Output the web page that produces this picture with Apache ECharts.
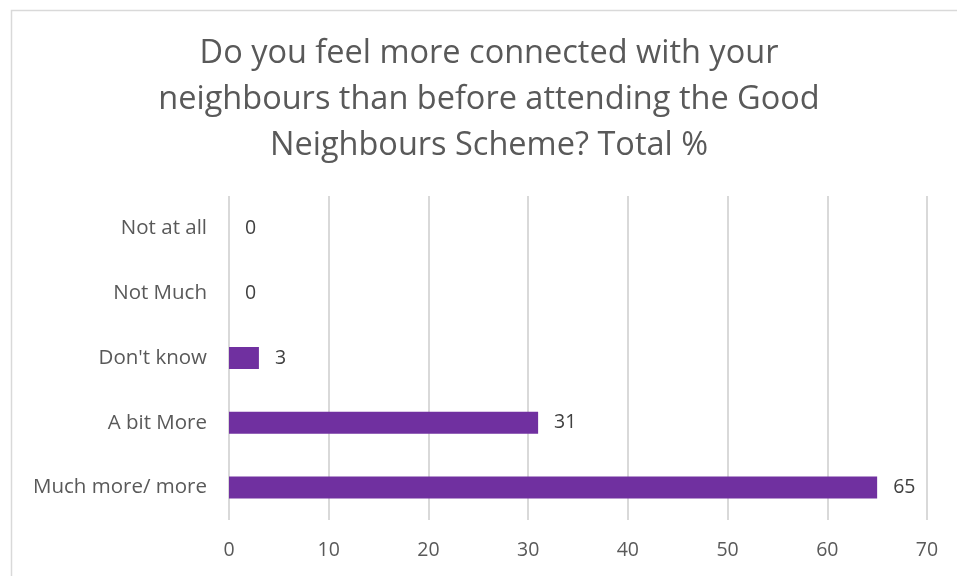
<!DOCTYPE html>
<html>
<head>
<meta charset="utf-8">
<script src="https://cdn.jsdelivr.net/npm/echarts@6/dist/echarts.min.js"></script>
<style>
  html, body { margin: 0; padding: 0; background: #fff; }
  #chart { width: 957px; height: 576px; }
</style>
</head>
<body>
<div id="chart"></div>
<script>
// Survey responses, listed bottom-to-top as drawn on the category axis
const categories = ['Much more/ more', 'A bit More', "Don't know", 'Not Much', 'Not at all'];
const totals = [65, 31, 3, 0, 0];
const xTicks = [0, 10, 20, 30, 40, 50, 60, 70];
const titleText = 'Do you feel more connected with your\nneighbours than before attending the Good\nNeighbours Scheme? Total %';

const chart = echarts.init(document.getElementById('chart'), null, { renderer: 'canvas' });
const font = '"Open Sans", "Noto Sans", sans-serif';

chart.setOption({
  animation: false,
  backgroundColor: '#ffffff',
  graphic: [{
    type: 'rect',
    left: 9, top: 8,
    shape: { width: 980, height: 600 },
    style: { fill: 'none', stroke: '#d9d9d9', lineWidth: 1.5 },
    silent: true
  }, {
    // Three-line heading, centred over the plot
    type: 'text',
    x: 489, y: 31,
    silent: true,
    style: {
      text: titleText,
      align: 'center',
      verticalAlign: 'top',
      fontFamily: font,
      fontSize: 32.5,
      lineHeight: 46,
      fill: '#595959'
    }
  }],
  grid: { left: 229, right: 30, top: 196, bottom: 56, containLabel: false },
  xAxis: {
    type: 'value',
    min: xTicks[0],
    max: xTicks[xTicks.length - 1],
    interval: 10,
    axisLine: { show: false },
    axisTick: { show: false },
    splitLine: { show: true, lineStyle: { color: '#d9d9d9', width: 2 } },
    axisLabel: {
      margin: 20,
      fontFamily: font,
      fontSize: 19.5,
      color: '#595959'
    }
  },
  yAxis: {
    type: 'category',
    data: categories,
    axisLine: { show: false },
    axisTick: { show: false },
    axisLabel: {
      margin: 22,
      fontFamily: font,
      fontSize: 20.5,
      color: '#595959'
    }
  },
  series: [{
    type: 'bar',
    data: totals,
    barWidth: 22,
    itemStyle: { color: '#7030a0' },
    label: {
      show: true,
      position: 'right',
      distance: 16,
      fontFamily: font,
      fontSize: 19.5,
      color: '#404040'
    }
  }]
});
</script>
</body>
</html>
